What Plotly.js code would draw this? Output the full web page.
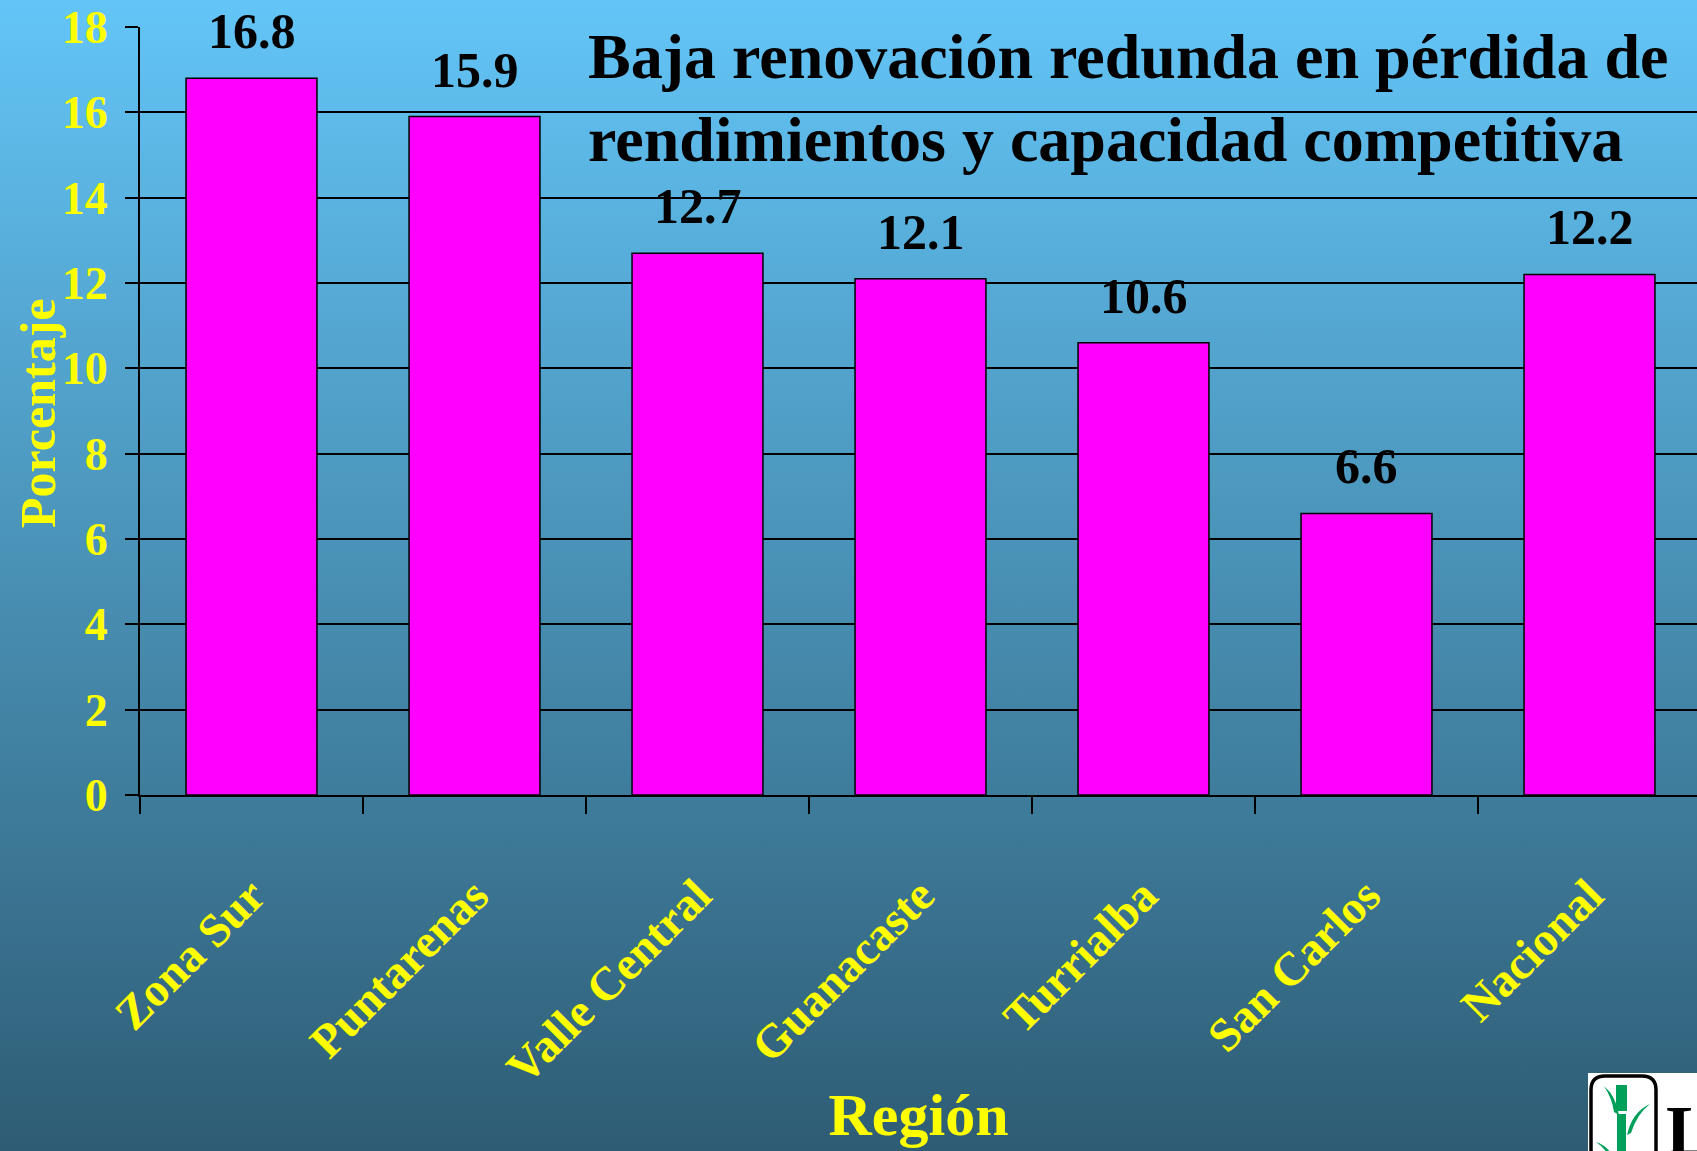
<!DOCTYPE html>
<html>
<head>
<meta charset="utf-8">
<script src="https://cdn.plot.ly/plotly-3.0.1.min.js"></script>
<style>
  html, body { margin: 0; padding: 0; overflow: hidden; }
  body { width: 1697px; height: 1151px;
         background: linear-gradient(to bottom, rgb(99,197,247) 0%, rgb(72,142,178) 52%, rgb(46,92,116) 100%); }
  #chart { width: 1697px; height: 1151px; }
</style>
</head>
<body>
<div id="chart"></div>
<script>
const categories = ['Zona Sur', 'Puntarenas', 'Valle Central', 'Guanacaste', 'Turrialba', 'San Carlos', 'Nacional'];
const values = [16.8, 15.9, 12.7, 12.1, 10.6, 6.6, 12.2];
const titleLines = ['Baja renovación redunda en pérdida de', 'rendimientos y capacidad competitiva'];
const yTitle = 'Porcentaje';
const xTitle = 'Región';

const W = 1697, H = 1151;
const M = { l: 140, r: 0, t: 27, b: 356 };
const plotW = W - M.l - M.r, plotH = H - M.t - M.b;
const px2x = p => (p - M.l) / plotW;
const px2y = p => (H - M.b - p) / plotH;

const serif = 'Liberation Serif, Times New Roman, serif';
const yellow = '#ffff00';

const trace = {
  type: 'bar',
  x: categories,
  y: values,
  marker: { color: '#ff00ff', line: { color: '#000000', width: 1.5 } },
  hoverinfo: 'none'
};

const valueLabels = categories.map((c, i) => ({
  x: c, y: values[i], xref: 'x', yref: 'y',
  text: values[i].toFixed(1),
  showarrow: false, yanchor: 'bottom', yshift: 17,
  font: { family: serif, size: 50, color: '#000000', weight: 'bold' }
}));

const yTitleAnn = {
  xref: 'paper', yref: 'paper', x: px2x(38), y: px2y(413),
  xanchor: 'center', yanchor: 'middle', textangle: -90, showarrow: false,
  text: yTitle,
  font: { family: serif, size: 50, color: yellow, weight: 'bold' }
};

const logoShapes = [
  { type: 'rect', xref: 'paper', yref: 'paper', x0: px2x(1588), x1: px2x(1700), y0: px2y(1160), y1: px2y(1073),
    fillcolor: '#ffffff', line: { width: 0 } },
  { type: 'path', xref: 'paper', yref: 'paper',
    path: `M ${px2x(1591)} ${px2y(1160)} L ${px2x(1591)} ${px2y(1090)} Q ${px2x(1591)} ${px2y(1076)} ${px2x(1605)} ${px2y(1076)} L ${px2x(1642)} ${px2y(1076)} Q ${px2x(1656)} ${px2y(1076)} ${px2x(1656)} ${px2y(1090)} L ${px2x(1656)} ${px2y(1160)}`,
    line: { color: '#000000', width: 3.5 } },
  { type: 'rect', xref: 'paper', yref: 'paper', x0: px2x(1616), x1: px2x(1627), y0: px2y(1111), y1: px2y(1085),
    fillcolor: '#00a05a', line: { width: 0 } },
  { type: 'rect', xref: 'paper', yref: 'paper', x0: px2x(1617), x1: px2x(1626), y0: px2y(1160), y1: px2y(1114),
    fillcolor: '#00a05a', line: { width: 0 } },
  { type: 'path', xref: 'paper', yref: 'paper',
    path: `M ${px2x(1604)} ${px2y(1086)} Q ${px2x(1616)} ${px2y(1096)} ${px2x(1619)} ${px2y(1115)} L ${px2x(1614)} ${px2y(1112)} Q ${px2x(1612)} ${px2y(1098)} ${px2x(1604)} ${px2y(1086)} Z`,
    fillcolor: '#00a05a', line: { width: 0 } },
  { type: 'path', xref: 'paper', yref: 'paper',
    path: `M ${px2x(1650)} ${px2y(1104)} Q ${px2x(1632)} ${px2y(1112)} ${px2x(1627)} ${px2y(1135)} L ${px2x(1631)} ${px2y(1133)} Q ${px2x(1637)} ${px2y(1114)} ${px2x(1650)} ${px2y(1104)} Z`,
    fillcolor: '#00a05a', line: { width: 0 } },
  { type: 'path', xref: 'paper', yref: 'paper',
    path: `M ${px2x(1596)} ${px2y(1142)} Q ${px2x(1608)} ${px2y(1146)} ${px2x(1614)} ${px2y(1158)} L ${px2x(1610)} ${px2y(1158)} Q ${px2x(1605)} ${px2y(1148)} ${px2x(1596)} ${px2y(1142)} Z`,
    fillcolor: '#00a05a', line: { width: 0 } }
];

const logoText = {
  xref: 'paper', yref: 'paper', x: px2x(1664), y: px2y(1090),
  xanchor: 'left', yanchor: 'top', showarrow: false, text: 'L',
  font: { family: serif, size: 70, color: '#000000', weight: 'bold' }
};

const layout = {
  width: W, height: H,
  margin: M,
  paper_bgcolor: 'rgba(0,0,0,0)',
  plot_bgcolor: 'rgba(0,0,0,0)',
  showlegend: false,
  bargap: 0.413,
  title: {
    text: titleLines.join('<br>'),
    font: { family: serif, size: 64, color: '#000000', weight: 'bold' },
    xref: 'container', yref: 'container',
    x: 588 / W, xanchor: 'left',
    y: 1 - 78 / H, yanchor: 'top',
    pad: { t: 0, l: 0, r: 0, b: 0 }
  },
  xaxis: {
    type: 'category',
    range: [-0.5, 6.5 - (M.l + 7 * 223 - W) / 223],
    tickson: 'boundaries',
    ticks: 'outside', ticklen: 17, tickwidth: 2, tickcolor: '#000000',
    showline: true, linecolor: '#000000', linewidth: 2,
    showgrid: false, zeroline: false,
    tickangle: -45,
    ticklabelstandoff: 52,
    tickfont: { family: serif, size: 47, color: yellow, weight: 'bold' },
    title: { text: xTitle, standoff: 0,
             font: { family: serif, size: 60, color: yellow, weight: 'bold' } },
    fixedrange: true
  },
  yaxis: {
    range: [0, 18], tick0: 0, dtick: 2,
    ticks: 'outside', ticklen: 13, tickwidth: 2, tickcolor: '#000000',
    showline: true, linecolor: '#000000', linewidth: 2,
    showgrid: true, gridcolor: '#000000', gridwidth: 2,
    zeroline: false,
    ticklabelstandoff: 8,
    tickfont: { family: serif, size: 46, color: yellow, weight: 'bold' },
    fixedrange: true
  },
  annotations: valueLabels.concat([yTitleAnn, logoText]),
  shapes: logoShapes
};

Plotly.newPlot('chart', [trace], layout, { displayModeBar: false, staticPlot: true });
</script>
</body>
</html>
